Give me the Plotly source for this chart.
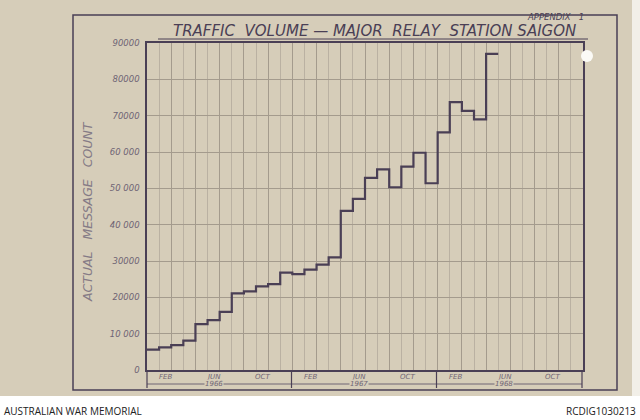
import plotly.graph_objects as go

# ---- data ----
months = ["1966-01", "1966-02", "1966-03", "1966-04", "1966-05", "1966-06",
          "1966-07", "1966-08", "1966-09", "1966-10", "1966-11", "1966-12",
          "1967-01", "1967-02", "1967-03", "1967-04", "1967-05", "1967-06",
          "1967-07", "1967-08", "1967-09", "1967-10", "1967-11", "1967-12",
          "1968-01", "1968-02", "1968-03", "1968-04", "1968-05"]
counts = [5600, 6250, 6850, 8100, 12600, 13750, 16000, 21100, 21650, 23000,
          23650, 26800, 26400, 27600, 29000, 31000, 43800, 47100, 52900, 55200,
          50300, 56000, 59800, 51400, 65400, 73700, 71300, 69000, 87000]
years = ["1966", "1967", "1968"]
month_marks = ["FEB", "JUN", "OCT"]
ytick_vals = [0, 10000, 20000, 30000, 40000, 50000, 60000, 70000, 80000, 90000]
ytick_text = ["0", "10 000", "20000", "30000", "40 000", "50 000", "60 000",
              "70000", "80000", "90000"]

# ---- geometry helpers (pixel -> paper) ----
W, H = 640, 420
L, R, T, B = 147, 583, 43, 370
def px(x):
    return (x - L) / (R - L)
def py(y):
    return (B - y) / (B - T)

PAPER = "#d6cdb9"
INK = "#4a3f55"
SOFT = "#6e6474"
GRID_MINOR = "#bab1a2"
GRID_MAJOR = "#a49b8d"

# step line: each month is a flat step starting at month start
xs = list(range(len(counts))) + [len(counts)]
ys = counts + [counts[-1]]

fig = go.Figure()
fig.add_trace(go.Scatter(x=xs, y=ys, mode="lines", line_shape="hv",
                         line=dict(color=INK, width=2.2), hoverinfo="skip",
                         showlegend=False))

shapes = []
# white outside of the sheet
shapes.append(dict(type="rect", xref="paper", yref="paper", layer="above",
                   x0=px(0), x1=px(640), y0=py(396), y1=py(420),
                   fillcolor="white", line=dict(width=0)))
shapes.append(dict(type="rect", xref="paper", yref="paper", layer="above",
                   x0=px(632), x1=px(640), y0=py(0), y1=py(396),
                   fillcolor="#f2efe8", line=dict(width=0)))
# outer frame
shapes.append(dict(type="rect", xref="paper", yref="paper",
                   x0=px(73), x1=px(617), y0=py(15), y1=py(390),
                   line=dict(color=INK, width=1.5)))
# title underline
shapes.append(dict(type="line", xref="paper", yref="paper",
                   x0=px(158), x1=px(588), y0=py(39), y1=py(39),
                   line=dict(color=INK, width=1)))
# year dimension line and dividers
shapes.append(dict(type="line", xref="paper", yref="paper",
                   x0=px(147), x1=px(582), y0=py(384), y1=py(384),
                   line=dict(color=SOFT, width=1)))
for xv in [147, 291.5, 436.5, 582]:
    shapes.append(dict(type="line", xref="paper", yref="paper",
                       x0=px(xv), x1=px(xv), y0=py(371), y1=py(388),
                       line=dict(color=INK, width=1.2)))
# punched hole
shapes.append(dict(type="circle", xref="paper", yref="paper",
                   x0=px(581), x1=px(593), y0=py(50), y1=py(62),
                   fillcolor="#fbfaf6", line=dict(width=0)))

ann = []
font_it = dict(family="DejaVu Sans", style="italic", color=SOFT)
for yi, yr in enumerate(years):
    for mi, m in zip([1.5, 5.5, 9.5], month_marks):
        ann.append(dict(x=12 * yi + mi, xref="x", y=py(377), yref="paper",
                        text=m, showarrow=False,
                        font=dict(size=7, **font_it), xanchor="center",
                        yanchor="middle"))
    ann.append(dict(x=12 * yi + 5.5, xref="x", y=py(384), yref="paper",
                    text=yr, showarrow=False, bgcolor=PAPER,
                    font=dict(size=7, **font_it), xanchor="center",
                    yanchor="middle", borderpad=0))

ann.append(dict(x=px(374), y=py(31.5), xref="paper", yref="paper",
                text="TRAFFIC  VOLUME — MAJOR  RELAY  STATION SAIGON",
                showarrow=False, xanchor="center", yanchor="middle",
                font=dict(size=15, family="DejaVu Sans", style="italic",
                          color=INK)))
ann.append(dict(x=px(586), y=py(17), xref="paper", yref="paper",
                text="APPENDIX   1", showarrow=False, xanchor="right",
                yanchor="middle",
                font=dict(size=8.5, family="DejaVu Sans", style="italic",
                          color=INK)))
ann.append(dict(x=px(88), y=py(212), xref="paper", yref="paper",
                text="ACTUAL   MESSAGE   COUNT", showarrow=False,
                textangle=-90, xanchor="center", yanchor="middle",
                font=dict(size=12.5, family="DejaVu Sans", style="italic",
                          color="#857b86")))
ann.append(dict(x=px(2), y=py(411), xref="paper", yref="paper",
                text="AUSTRALIAN WAR MEMORIAL", showarrow=False,
                xanchor="left", yanchor="middle",
                font=dict(size=10, family="Open Sans", color="#222222")))
ann.append(dict(x=px(638), y=py(411), xref="paper", yref="paper",
                text="RCDIG1030213", showarrow=False,
                xanchor="right", yanchor="middle",
                font=dict(size=10, family="Open Sans", color="#222222")))

fig.update_layout(
    width=W, height=H, autosize=False,
    margin=dict(l=L, r=W - R, t=T, b=H - B, pad=0),
    paper_bgcolor=PAPER, plot_bgcolor=PAPER,
    shapes=shapes, annotations=ann, showlegend=False,
)
fig.update_xaxes(range=[0, 36], tick0=0, dtick=2, showgrid=True,
                 gridcolor=GRID_MAJOR, gridwidth=1, showticklabels=False,
                 ticks="", zeroline=False, showline=True, mirror=True,
                 linecolor=INK, linewidth=1.5,
                 minor=dict(tick0=0, dtick=1, showgrid=True,
                            gridcolor=GRID_MINOR, gridwidth=1))
fig.update_yaxes(range=[0, 90000], tickvals=ytick_vals, ticktext=ytick_text,
                 showgrid=True, gridcolor=GRID_MAJOR, gridwidth=1,
                 zeroline=False, showline=True, mirror=True, linecolor=INK,
                 linewidth=1.5, ticks="", ticklabelstandoff=4,
                 tickfont=dict(size=8.5, family="DejaVu Sans", style="italic",
                               color=SOFT))

fig.write_html("out.html", config={"displayModeBar": False},
               post_script="document.body.style.margin='0';"
                           "document.body.style.overflow='hidden';")
